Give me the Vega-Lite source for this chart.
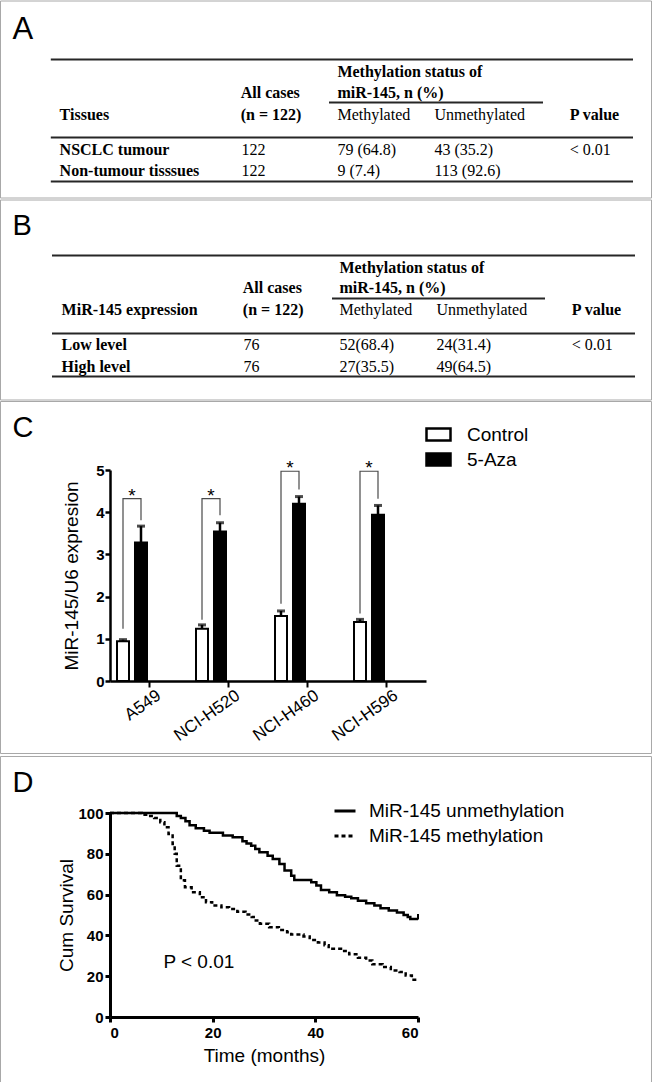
{
"$schema": "https://vega.github.io/schema/vega-lite/v6.json",
"padding": 0,
"background": "white",
"spacing": 0,
"resolve": {"scale": {"fill": "independent", "strokeDash": "independent"}, "legend": {"fill": "independent", "strokeDash": "independent"}},
"config": {"view": {"stroke": null}, "font": "Liberation Sans"},
"datasets": {
"frameA": [{"fx0": 0.5, "fx1": 651.5, "fy0": 0.5, "fy1": 197.5}],
"frameB": [{"fx0": 0.5, "fx1": 651.5, "fy0": 0.5, "fy1": 200.5}],
"frameU": [{"fx0": 0, "fx1": 1, "fy0": 0, "fy1": 1}],
"rulesA": [{"rx1": 50.8, "rx2": 633, "ry": 59}, {"rx1": 329, "rx2": 543, "ry": 102}, {"rx1": 50.8, "rx2": 633, "ry": 137}, {"rx1": 50.8, "rx2": 633, "ry": 181}],
"rulesB": [{"rx1": 52, "rx2": 635, "ry": 56}, {"rx1": 332, "rx2": 545, "ry": 99}, {"rx1": 52, "rx2": 635, "ry": 134}, {"rx1": 52, "rx2": 635, "ry": 177}],
"textA": [
{"tx": 337.4, "ty": 76, "t": "Methylation status of", "w": "b"},
{"tx": 337.4, "ty": 97, "t": "miR-145, n (%)", "w": "b"},
{"tx": 240.7, "ty": 97, "t": "All cases", "w": "b"},
{"tx": 59.6, "ty": 119, "t": "Tissues", "w": "b"},
{"tx": 240.7, "ty": 119, "t": "(n = 122)", "w": "b"},
{"tx": 337.4, "ty": 119, "t": "Methylated", "w": "n"},
{"tx": 434.4, "ty": 119, "t": "Unmethylated", "w": "n"},
{"tx": 569.8, "ty": 119, "t": "P value", "w": "b"},
{"tx": 59.6, "ty": 154, "t": "NSCLC tumour", "w": "b"},
{"tx": 241.6, "ty": 154, "t": "122", "w": "n"},
{"tx": 337.4, "ty": 154, "t": "79 (64.8)", "w": "n"},
{"tx": 434.4, "ty": 154, "t": "43 (35.2)", "w": "n"},
{"tx": 569.8, "ty": 154, "t": "< 0.01", "w": "n"},
{"tx": 59.6, "ty": 175, "t": "Non-tumour tisssues", "w": "b"},
{"tx": 241.6, "ty": 175, "t": "122", "w": "n"},
{"tx": 337.4, "ty": 175, "t": "9 (7.4)", "w": "n"},
{"tx": 434.4, "ty": 175, "t": "113 (92.6)", "w": "n"},
{"tx": 12.6, "ty": 38.3, "t": "A", "w": "L"}
],
"textB": [
{"tx": 339.4, "ty": 73.7, "t": "Methylation status of", "w": "b"},
{"tx": 339.4, "ty": 93.7, "t": "miR-145, n (%)", "w": "b"},
{"tx": 242.8, "ty": 93.7, "t": "All cases", "w": "b"},
{"tx": 61.6, "ty": 115.3, "t": "MiR-145 expression", "w": "b"},
{"tx": 242.8, "ty": 115.3, "t": "(n = 122)", "w": "b"},
{"tx": 339.4, "ty": 115.3, "t": "Methylated", "w": "n"},
{"tx": 436.5, "ty": 115.3, "t": "Unmethylated", "w": "n"},
{"tx": 571.8, "ty": 115.3, "t": "P value", "w": "b"},
{"tx": 61.6, "ty": 150.3, "t": "Low level", "w": "b"},
{"tx": 243.6, "ty": 150.3, "t": "76", "w": "n"},
{"tx": 339.4, "ty": 150.3, "t": "52(68.4)", "w": "n"},
{"tx": 436.5, "ty": 150.3, "t": "24(31.4)", "w": "n"},
{"tx": 571.8, "ty": 150.3, "t": "< 0.01", "w": "n"},
{"tx": 61.6, "ty": 172, "t": "High level", "w": "b"},
{"tx": 243.6, "ty": 172, "t": "76", "w": "n"},
{"tx": 339.4, "ty": 172, "t": "27(35.5)", "w": "n"},
{"tx": 436.5, "ty": 172, "t": "49(64.5)", "w": "n"},
{"tx": 12.6, "ty": 35.5, "t": "B", "w": "L"}
],
"bars": [
{"cell": "A549", "group": "Control", "v": 0.94, "up": 0.98},
{"cell": "A549", "group": "5-Aza", "v": 3.28, "up": 3.67},
{"cell": "NCI-H520", "group": "Control", "v": 1.24, "up": 1.33},
{"cell": "NCI-H520", "group": "5-Aza", "v": 3.54, "up": 3.75},
{"cell": "NCI-H460", "group": "Control", "v": 1.54, "up": 1.66},
{"cell": "NCI-H460", "group": "5-Aza", "v": 4.2, "up": 4.37},
{"cell": "NCI-H596", "group": "Control", "v": 1.4, "up": 1.46},
{"cell": "NCI-H596", "group": "5-Aza", "v": 3.94, "up": 4.16}
],
"brk": [
{"cell": "A549", "group": "Control", "by": 1.24, "k": 1},
{"cell": "A549", "group": "Control", "by": 4.32, "k": 2},
{"cell": "A549", "group": "5-Aza", "by": 4.32, "k": 3},
{"cell": "A549", "group": "5-Aza", "by": 3.81, "k": 4},
{"cell": "NCI-H520", "group": "Control", "by": 1.45, "k": 1},
{"cell": "NCI-H520", "group": "Control", "by": 4.32, "k": 2},
{"cell": "NCI-H520", "group": "5-Aza", "by": 4.32, "k": 3},
{"cell": "NCI-H520", "group": "5-Aza", "by": 3.93, "k": 4},
{"cell": "NCI-H460", "group": "Control", "by": 1.83, "k": 1},
{"cell": "NCI-H460", "group": "Control", "by": 4.97, "k": 2},
{"cell": "NCI-H460", "group": "5-Aza", "by": 4.97, "k": 3},
{"cell": "NCI-H460", "group": "5-Aza", "by": 4.54, "k": 4},
{"cell": "NCI-H596", "group": "Control", "by": 1.6, "k": 1},
{"cell": "NCI-H596", "group": "Control", "by": 4.97, "k": 2},
{"cell": "NCI-H596", "group": "5-Aza", "by": 4.97, "k": 3},
{"cell": "NCI-H596", "group": "5-Aza", "by": 4.32, "k": 4}
],
"stars": [
{"cell": "A549", "top": 4.32},
{"cell": "NCI-H520", "top": 4.32},
{"cell": "NCI-H460", "top": 4.97},
{"cell": "NCI-H596", "top": 4.97}
],
"km": [
{"series": "MiR-145 unmethylation", "m": 0, "s": 100},
{"series": "MiR-145 unmethylation", "m": 13.0, "s": 98.5},
{"series": "MiR-145 unmethylation", "m": 13.8, "s": 97.5},
{"series": "MiR-145 unmethylation", "m": 14.7, "s": 96},
{"series": "MiR-145 unmethylation", "m": 15.5, "s": 94},
{"series": "MiR-145 unmethylation", "m": 16.7, "s": 92.5},
{"series": "MiR-145 unmethylation", "m": 18.3, "s": 91.3},
{"series": "MiR-145 unmethylation", "m": 19.4, "s": 90.3},
{"series": "MiR-145 unmethylation", "m": 22.0, "s": 89},
{"series": "MiR-145 unmethylation", "m": 23.9, "s": 88.1},
{"series": "MiR-145 unmethylation", "m": 25.8, "s": 86.1},
{"series": "MiR-145 unmethylation", "m": 26.6, "s": 85},
{"series": "MiR-145 unmethylation", "m": 27.5, "s": 84},
{"series": "MiR-145 unmethylation", "m": 28.3, "s": 82.3},
{"series": "MiR-145 unmethylation", "m": 29.1, "s": 80.7},
{"series": "MiR-145 unmethylation", "m": 30.7, "s": 79.1},
{"series": "MiR-145 unmethylation", "m": 31.7, "s": 77.5},
{"series": "MiR-145 unmethylation", "m": 33.0, "s": 75},
{"series": "MiR-145 unmethylation", "m": 34.0, "s": 71.8},
{"series": "MiR-145 unmethylation", "m": 35.3, "s": 69.3},
{"series": "MiR-145 unmethylation", "m": 35.9, "s": 67.2},
{"series": "MiR-145 unmethylation", "m": 39.2, "s": 66.1},
{"series": "MiR-145 unmethylation", "m": 40.2, "s": 64.4},
{"series": "MiR-145 unmethylation", "m": 41.1, "s": 62.3},
{"series": "MiR-145 unmethylation", "m": 42.7, "s": 61.2},
{"series": "MiR-145 unmethylation", "m": 44.2, "s": 59.7},
{"series": "MiR-145 unmethylation", "m": 45.8, "s": 59},
{"series": "MiR-145 unmethylation", "m": 47.0, "s": 58.2},
{"series": "MiR-145 unmethylation", "m": 48.3, "s": 57},
{"series": "MiR-145 unmethylation", "m": 49.9, "s": 55.8},
{"series": "MiR-145 unmethylation", "m": 51.5, "s": 54.6},
{"series": "MiR-145 unmethylation", "m": 52.7, "s": 53.3},
{"series": "MiR-145 unmethylation", "m": 54.3, "s": 52.2},
{"series": "MiR-145 unmethylation", "m": 55.9, "s": 51.2},
{"series": "MiR-145 unmethylation", "m": 57.2, "s": 50},
{"series": "MiR-145 unmethylation", "m": 58.0, "s": 49},
{"series": "MiR-145 unmethylation", "m": 58.5, "s": 48},
{"series": "MiR-145 unmethylation", "m": 60, "s": 48},
{"series": "MiR-145 methylation", "m": 0, "s": 100},
{"series": "MiR-145 methylation", "m": 6.2, "s": 99.2},
{"series": "MiR-145 methylation", "m": 7.5, "s": 98.5},
{"series": "MiR-145 methylation", "m": 8.6, "s": 97.5},
{"series": "MiR-145 methylation", "m": 9.8, "s": 95.5},
{"series": "MiR-145 methylation", "m": 10.6, "s": 93},
{"series": "MiR-145 methylation", "m": 11.4, "s": 89.7},
{"series": "MiR-145 methylation", "m": 12.2, "s": 84.8},
{"series": "MiR-145 methylation", "m": 12.6, "s": 80},
{"series": "MiR-145 methylation", "m": 13.0, "s": 74.2},
{"series": "MiR-145 methylation", "m": 13.8, "s": 67},
{"series": "MiR-145 methylation", "m": 14.6, "s": 63.6},
{"series": "MiR-145 methylation", "m": 15.9, "s": 61.2},
{"series": "MiR-145 methylation", "m": 17.5, "s": 58.7},
{"series": "MiR-145 methylation", "m": 18.7, "s": 56.3},
{"series": "MiR-145 methylation", "m": 19.9, "s": 54.6},
{"series": "MiR-145 methylation", "m": 21.7, "s": 53.8},
{"series": "MiR-145 methylation", "m": 23.2, "s": 53},
{"series": "MiR-145 methylation", "m": 24.8, "s": 51.6},
{"series": "MiR-145 methylation", "m": 26.4, "s": 50.2},
{"series": "MiR-145 methylation", "m": 27.6, "s": 49},
{"series": "MiR-145 methylation", "m": 28.4, "s": 47.3},
{"series": "MiR-145 methylation", "m": 29.2, "s": 45.7},
{"series": "MiR-145 methylation", "m": 31.0, "s": 44},
{"series": "MiR-145 methylation", "m": 32.9, "s": 42.7},
{"series": "MiR-145 methylation", "m": 34.5, "s": 41.6},
{"series": "MiR-145 methylation", "m": 35.3, "s": 40.4},
{"series": "MiR-145 methylation", "m": 37.7, "s": 39.5},
{"series": "MiR-145 methylation", "m": 38.9, "s": 37.8},
{"series": "MiR-145 methylation", "m": 40.5, "s": 36.5},
{"series": "MiR-145 methylation", "m": 41.8, "s": 35.2},
{"series": "MiR-145 methylation", "m": 42.6, "s": 33.4},
{"series": "MiR-145 methylation", "m": 45.0, "s": 32.3},
{"series": "MiR-145 methylation", "m": 46.6, "s": 30.7},
{"series": "MiR-145 methylation", "m": 48.3, "s": 29},
{"series": "MiR-145 methylation", "m": 49.9, "s": 27.7},
{"series": "MiR-145 methylation", "m": 51.1, "s": 25.8},
{"series": "MiR-145 methylation", "m": 53.1, "s": 24.5},
{"series": "MiR-145 methylation", "m": 54.7, "s": 22.8},
{"series": "MiR-145 methylation", "m": 56.4, "s": 22},
{"series": "MiR-145 methylation", "m": 57.6, "s": 20.4},
{"series": "MiR-145 methylation", "m": 58.8, "s": 18.3},
{"series": "MiR-145 methylation", "m": 60, "s": 18.3}
]
},
"vconcat": [
{
"width": 541, "height": 197,
"layer": [
{"data": {"name": "frameA"}, "mark": {"type": "rect", "fill": "white", "fillOpacity": 0, "stroke": "#a8a8a8", "strokeWidth": 1},
 "encoding": {"x": {"field": "fx0", "type": "quantitative", "scale": {"domain": [110, 651], "nice": false, "zero": false}, "axis": null}, "x2": {"field": "fx1"},
  "y": {"field": "fy0", "type": "quantitative", "scale": {"domain": [0.5, 197.5], "nice": false, "zero": false, "reverse": true}, "axis": null}, "y2": {"field": "fy1"}}},
{"data": {"name": "rulesA"}, "mark": {"type": "rule", "stroke": "#262626", "strokeWidth": 2},
 "encoding": {"x": {"field": "rx1", "type": "quantitative", "scale": {"domain": [110, 651], "nice": false, "zero": false}, "axis": null}, "x2": {"field": "rx2"},
  "y": {"field": "ry", "type": "quantitative", "scale": {"domain": [0.5, 197.5], "nice": false, "zero": false, "reverse": true}, "axis": null}}},
{"data": {"name": "textA"}, "transform": [{"filter": "datum.w == 'b'"}], "mark": {"type": "text", "align": "left", "baseline": "alphabetic", "font": "Liberation Serif", "fontWeight": "bold", "fontSize": 16, "fill": "black"},
 "encoding": {"x": {"field": "tx", "type": "quantitative", "scale": {"domain": [110, 651], "nice": false, "zero": false}, "axis": null},
  "y": {"field": "ty", "type": "quantitative", "scale": {"domain": [0.5, 197.5], "nice": false, "zero": false, "reverse": true}, "axis": null}, "text": {"field": "t"}}},
{"data": {"name": "textA"}, "transform": [{"filter": "datum.w == 'n'"}], "mark": {"type": "text", "align": "left", "baseline": "alphabetic", "font": "Liberation Serif", "fontWeight": "normal", "fontSize": 16, "fill": "black"},
 "encoding": {"x": {"field": "tx", "type": "quantitative", "scale": {"domain": [110, 651], "nice": false, "zero": false}, "axis": null},
  "y": {"field": "ty", "type": "quantitative", "scale": {"domain": [0.5, 197.5], "nice": false, "zero": false, "reverse": true}, "axis": null}, "text": {"field": "t"}}},
{"data": {"name": "textA"}, "transform": [{"filter": "datum.w == 'L'"}], "mark": {"type": "text", "align": "left", "baseline": "alphabetic", "font": "Liberation Sans", "fontSize": 31, "fill": "black"},
 "encoding": {"x": {"field": "tx", "type": "quantitative", "scale": {"domain": [110, 651], "nice": false, "zero": false}, "axis": null},
  "y": {"field": "ty", "type": "quantitative", "scale": {"domain": [0.5, 197.5], "nice": false, "zero": false, "reverse": true}, "axis": null}, "text": {"field": "t"}}}
]
},
{
"width": 541, "height": 200,
"layer": [
{"data": {"name": "frameB"}, "mark": {"type": "rect", "fill": "white", "fillOpacity": 0, "stroke": "#a8a8a8", "strokeWidth": 1},
 "encoding": {"x": {"field": "fx0", "type": "quantitative", "scale": {"domain": [110, 651], "nice": false, "zero": false}, "axis": null}, "x2": {"field": "fx1"},
  "y": {"field": "fy0", "type": "quantitative", "scale": {"domain": [0.5, 200.5], "nice": false, "zero": false, "reverse": true}, "axis": null}, "y2": {"field": "fy1"}}},
{"data": {"name": "rulesB"}, "mark": {"type": "rule", "stroke": "#262626", "strokeWidth": 2},
 "encoding": {"x": {"field": "rx1", "type": "quantitative", "scale": {"domain": [110, 651], "nice": false, "zero": false}, "axis": null}, "x2": {"field": "rx2"},
  "y": {"field": "ry", "type": "quantitative", "scale": {"domain": [0.5, 200.5], "nice": false, "zero": false, "reverse": true}, "axis": null}}},
{"data": {"name": "textB"}, "transform": [{"filter": "datum.w == 'b'"}], "mark": {"type": "text", "align": "left", "baseline": "alphabetic", "font": "Liberation Serif", "fontWeight": "bold", "fontSize": 16, "fill": "black"},
 "encoding": {"x": {"field": "tx", "type": "quantitative", "scale": {"domain": [110, 651], "nice": false, "zero": false}, "axis": null},
  "y": {"field": "ty", "type": "quantitative", "scale": {"domain": [0.5, 200.5], "nice": false, "zero": false, "reverse": true}, "axis": null}, "text": {"field": "t"}}},
{"data": {"name": "textB"}, "transform": [{"filter": "datum.w == 'n'"}], "mark": {"type": "text", "align": "left", "baseline": "alphabetic", "font": "Liberation Serif", "fontWeight": "normal", "fontSize": 16, "fill": "black"},
 "encoding": {"x": {"field": "tx", "type": "quantitative", "scale": {"domain": [110, 651], "nice": false, "zero": false}, "axis": null},
  "y": {"field": "ty", "type": "quantitative", "scale": {"domain": [0.5, 200.5], "nice": false, "zero": false, "reverse": true}, "axis": null}, "text": {"field": "t"}}},
{"data": {"name": "textB"}, "transform": [{"filter": "datum.w == 'L'"}], "mark": {"type": "text", "align": "left", "baseline": "alphabetic", "font": "Liberation Sans", "fontSize": 29, "fill": "black"},
 "encoding": {"x": {"field": "tx", "type": "quantitative", "scale": {"domain": [110, 651], "nice": false, "zero": false}, "axis": null},
  "y": {"field": "ty", "type": "quantitative", "scale": {"domain": [0.5, 200.5], "nice": false, "zero": false, "reverse": true}, "axis": null}, "text": {"field": "t"}}}
]
},
{
"width": 316, "height": 211,
"resolve": {"scale": {"x": "independent", "y": "independent"}},
"layer": [
{"layer": [
 {"data": {"name": "frameU"}, "mark": {"type": "rect", "fill": "white", "fillOpacity": 0, "stroke": "#a8a8a8", "strokeWidth": 1},
  "encoding": {"x": {"field": "fx0", "type": "quantitative", "scale": {"domain": [0.1682, 0.65361], "nice": false, "zero": false}, "axis": null}, "x2": {"field": "fx1"},
   "y": {"field": "fy0", "type": "quantitative", "scale": {"domain": [0.1946, 0.79403], "nice": false, "zero": false, "reverse": true}, "axis": null}, "y2": {"field": "fy1"}}},
 {"data": {"values": [{"fx0": 0.01859, "fy0": 0.1009, "t": "C"}]}, "mark": {"type": "text", "align": "left", "baseline": "alphabetic", "font": "Liberation Sans", "fontSize": 29, "fill": "black"},
  "encoding": {"x": {"field": "fx0", "type": "quantitative", "scale": {"domain": [0.1682, 0.65361], "nice": false, "zero": false}, "axis": null},
   "y": {"field": "fy0", "type": "quantitative", "scale": {"domain": [0.1946, 0.79403], "nice": false, "zero": false, "reverse": true}, "axis": null}, "text": {"field": "t"}}}
]},
{"layer": [
 {"data": {"name": "bars"}, "mark": {"type": "bar", "stroke": "black", "strokeWidth": 2},
  "encoding": {
   "x": {"field": "cell", "type": "nominal", "sort": ["A549", "NCI-H520", "NCI-H460", "NCI-H596"], "scale": {"domain": ["A549", "NCI-H520", "NCI-H460", "NCI-H596"], "paddingInner": 0, "paddingOuter": 0},
    "axis": {"title": null, "domainColor": "black", "domainWidth": 2.5, "tickColor": "black", "tickWidth": 2, "tickSize": 6, "labelAngle": -35, "labelAlign": "right", "labelBaseline": "top", "labelOffset": 5, "labelFont": "Liberation Sans", "labelFontSize": 17, "labelColor": "black", "labelPadding": 0}},
   "xOffset": {"field": "group", "type": "nominal", "sort": ["Control", "5-Aza"], "scale": {"domain": ["Control", "5-Aza"], "range": [7, 37], "paddingInner": 0.333, "paddingOuter": 0}},
   "y": {"field": "v", "type": "quantitative", "scale": {"domain": [0, 5], "nice": false},
    "axis": {"values": [0, 1, 2, 3, 4, 5], "grid": false, "domainColor": "black", "domainWidth": 2.5, "tickColor": "black", "tickWidth": 2.5, "tickSize": 5, "labelFont": "Liberation Sans", "labelFontWeight": "bold", "labelFontSize": 15, "labelColor": "black", "labelPadding": 1, "title": "MiR-145/U6 expresion", "titleFont": "Liberation Sans", "titleFontWeight": "normal", "titleFontSize": 19, "titleColor": "black", "titlePadding": 14}},
   "fill": {"field": "group", "type": "nominal", "scale": {"domain": ["Control", "5-Aza"], "range": ["white", "black"]},
    "legend": {"orient": "none", "legendX": 315, "legendY": -49, "title": null, "padding": 0, "symbolType": "M-1,-0.5H1V0.5H-1Z", "symbolSize": 576, "symbolStrokeColor": "black", "symbolStrokeWidth": 2.5, "labelFont": "Liberation Sans", "labelFontSize": 19, "labelColor": "black", "labelOffset": 15, "labelLimit": 300, "rowPadding": 0}}
  }},
 {"data": {"name": "bars"}, "mark": {"type": "rule", "stroke": "black", "strokeWidth": 2.5},
  "encoding": {
   "x": {"field": "cell", "type": "nominal", "sort": ["A549", "NCI-H520", "NCI-H460", "NCI-H596"], "scale": {"domain": ["A549", "NCI-H520", "NCI-H460", "NCI-H596"], "paddingInner": 0, "paddingOuter": 0}},
   "xOffset": {"field": "group", "type": "nominal", "sort": ["Control", "5-Aza"], "scale": {"domain": ["Control", "5-Aza"], "range": [7, 37], "paddingInner": 0.333, "paddingOuter": 0}},
   "y": {"field": "v", "type": "quantitative", "scale": {"domain": [0, 5], "nice": false}}, "y2": {"field": "up"}}},
 {"data": {"name": "bars"}, "mark": {"type": "tick", "orient": "horizontal", "color": "black", "size": 8, "thickness": 3},
  "encoding": {
   "x": {"field": "cell", "type": "nominal", "sort": ["A549", "NCI-H520", "NCI-H460", "NCI-H596"], "scale": {"domain": ["A549", "NCI-H520", "NCI-H460", "NCI-H596"], "paddingInner": 0, "paddingOuter": 0}},
   "xOffset": {"field": "group", "type": "nominal", "sort": ["Control", "5-Aza"], "scale": {"domain": ["Control", "5-Aza"], "range": [7, 37], "paddingInner": 0.333, "paddingOuter": 0}},
   "y": {"field": "up", "type": "quantitative", "scale": {"domain": [0, 5], "nice": false}}}},
 {"data": {"name": "brk"}, "mark": {"type": "line", "stroke": "#4a4a4a", "strokeWidth": 1.2},
  "encoding": {
   "x": {"field": "cell", "type": "nominal", "sort": ["A549", "NCI-H520", "NCI-H460", "NCI-H596"], "scale": {"domain": ["A549", "NCI-H520", "NCI-H460", "NCI-H596"], "paddingInner": 0, "paddingOuter": 0}},
   "xOffset": {"field": "group", "type": "nominal", "sort": ["Control", "5-Aza"], "scale": {"domain": ["Control", "5-Aza"], "range": [7, 37], "paddingInner": 0.333, "paddingOuter": 0}},
   "y": {"field": "by", "type": "quantitative", "scale": {"domain": [0, 5], "nice": false}},
   "order": {"field": "k", "type": "quantitative"}, "detail": {"field": "cell"}}},
 {"data": {"name": "stars"}, "mark": {"type": "text", "text": "*", "fontSize": 19, "font": "Liberation Sans", "baseline": "alphabetic", "align": "center", "dx": -17.5, "dy": 3, "fill": "black"},
  "encoding": {
   "x": {"field": "cell", "type": "nominal", "sort": ["A549", "NCI-H520", "NCI-H460", "NCI-H596"], "scale": {"domain": ["A549", "NCI-H520", "NCI-H460", "NCI-H596"], "paddingInner": 0, "paddingOuter": 0}},
   "y": {"field": "top", "type": "quantitative", "scale": {"domain": [0, 5], "nice": false}}}}
]}
]
},
{
"width": 308, "height": 204,
"resolve": {"scale": {"x": "independent", "y": "independent"}},
"layer": [
{"layer": [
 {"data": {"name": "frameU"}, "mark": {"type": "rect", "fill": "white", "fillOpacity": 0, "stroke": "#a8a8a8", "strokeWidth": 1},
  "encoding": {"x": {"field": "fx0", "type": "quantitative", "scale": {"domain": [0.1682, 0.64132], "nice": false, "zero": false}, "axis": null}, "x2": {"field": "fx1"},
   "y": {"field": "fy0", "type": "quantitative", "scale": {"domain": [0.17226, 0.79421], "nice": false, "zero": false, "reverse": true}, "axis": null}, "y2": {"field": "fy1"}}},
 {"data": {"values": [{"fx0": 0.01859, "fy0": 0.10823, "t": "D"}]}, "mark": {"type": "text", "align": "left", "baseline": "alphabetic", "font": "Liberation Sans", "fontSize": 29, "fill": "black"},
  "encoding": {"x": {"field": "fx0", "type": "quantitative", "scale": {"domain": [0.1682, 0.64132], "nice": false, "zero": false}, "axis": null},
   "y": {"field": "fy0", "type": "quantitative", "scale": {"domain": [0.17226, 0.79421], "nice": false, "zero": false, "reverse": true}, "axis": null}, "text": {"field": "t"}}}
]},
{"layer": [
 {"data": {"name": "km"}, "mark": {"type": "line", "interpolate": "step-after", "stroke": "black", "strokeWidth": 2.5},
  "encoding": {
   "x": {"field": "m", "type": "quantitative", "scale": {"domain": [0, 60], "nice": false},
    "axis": {"values": [0, 20, 40, 60], "grid": false, "title": "Time (months)", "domainColor": "black", "domainWidth": 3, "tickColor": "black", "tickWidth": 3, "tickSize": 5, "labelFont": "Liberation Sans", "labelFontWeight": "bold", "labelFontSize": 15, "labelColor": "black", "labelPadding": 3, "titleFont": "Liberation Sans", "titleFontWeight": "normal", "titleFontSize": 19, "titleColor": "black", "titlePadding": 6}},
   "y": {"field": "s", "type": "quantitative", "scale": {"domain": [0, 100], "nice": false},
    "axis": {"values": [0, 20, 40, 60, 80, 100], "grid": false, "title": "Cum Survival", "domainColor": "black", "domainWidth": 3, "tickColor": "black", "tickWidth": 3, "tickSize": 5, "labelFont": "Liberation Sans", "labelFontWeight": "bold", "labelFontSize": 15, "labelColor": "black", "labelPadding": 2, "titleFont": "Liberation Sans", "titleFontWeight": "normal", "titleFontSize": 19, "titleColor": "black", "titlePadding": 1}},
   "strokeDash": {"field": "series", "type": "nominal", "scale": {"domain": ["MiR-145 unmethylation", "MiR-145 methylation"], "range": [[1, 0], [4, 3]]},
    "legend": {"orient": "none", "legendX": 223, "legendY": -14, "title": null, "padding": 0, "symbolType": "stroke", "symbolSize": 441, "symbolStrokeWidth": 3, "symbolStrokeColor": "black", "labelFont": "Liberation Sans", "labelFontSize": 19, "labelColor": "black", "labelOffset": 12, "labelLimit": 400, "rowPadding": 3}},
   "order": {"field": "m", "type": "quantitative"}
  }},
 {"data": {"values": [{"m": 60, "s": 47.8, "s2": 50.5}]}, "mark": {"type": "rule", "stroke": "black", "strokeWidth": 2},
  "encoding": {"x": {"field": "m", "type": "quantitative", "scale": {"domain": [0, 60], "nice": false}}, "y": {"field": "s", "type": "quantitative", "scale": {"domain": [0, 100], "nice": false}}, "y2": {"field": "s2"}}},
 {"data": {"values": [{"m": 10.4, "s": 27.1, "t": "P < 0.01"}]}, "mark": {"type": "text", "align": "left", "baseline": "middle", "font": "Liberation Sans", "fontSize": 19, "fill": "black"},
  "encoding": {"x": {"field": "m", "type": "quantitative", "scale": {"domain": [0, 60], "nice": false}}, "y": {"field": "s", "type": "quantitative", "scale": {"domain": [0, 100], "nice": false}}, "text": {"field": "t"}}}
]}
]
}
]
}
